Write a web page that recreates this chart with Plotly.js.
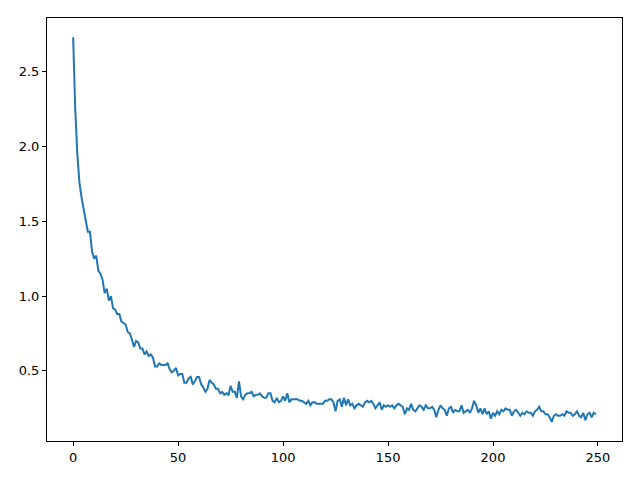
<!DOCTYPE html>
<html>
<head>
<meta charset="utf-8">
<script src="https://cdn.plot.ly/plotly-3.0.1.min.js"></script>
<style>html,body{margin:0;padding:0;background:#fff;}#chart{width:640px;height:480px;}</style>
</head>
<body>
<div id="chart"></div>
<script>
const lossValues = [
  2.73, 2.25, 1.95, 1.76, 1.66, 1.59, 1.52, 1.43, 1.43, 1.30,
  1.25, 1.27, 1.17, 1.15, 1.11, 1.02, 1.05, 0.97, 1.00, 0.92,
  0.91, 0.88, 0.88, 0.83, 0.82, 0.81, 0.76, 0.75, 0.71, 0.66,
  0.70, 0.69, 0.65, 0.65, 0.61, 0.63, 0.60, 0.61, 0.59, 0.53,
  0.53, 0.55, 0.54, 0.54, 0.54, 0.55, 0.51, 0.49, 0.50, 0.52,
  0.47, 0.48, 0.48, 0.42, 0.42, 0.45, 0.46, 0.41, 0.43, 0.46,
  0.46, 0.41, 0.39, 0.36, 0.38, 0.44, 0.42, 0.41, 0.38, 0.38,
  0.35, 0.36, 0.34, 0.35, 0.34, 0.40, 0.36, 0.36, 0.32, 0.43,
  0.33, 0.31, 0.34, 0.35, 0.35, 0.36, 0.33, 0.34, 0.34, 0.35,
  0.33, 0.32, 0.32, 0.35, 0.35, 0.30, 0.29, 0.32, 0.29, 0.30,
  0.33, 0.30, 0.35, 0.29, 0.31, 0.31, 0.31, 0.31, 0.30, 0.30,
  0.29, 0.28, 0.30, 0.27, 0.29, 0.29, 0.28, 0.28, 0.28, 0.28,
  0.30, 0.30, 0.31, 0.31, 0.29, 0.23, 0.30, 0.31, 0.26, 0.32,
  0.27, 0.31, 0.27, 0.28, 0.25, 0.27, 0.28, 0.27, 0.26, 0.29,
  0.30, 0.29, 0.30, 0.28, 0.25, 0.27, 0.29, 0.24, 0.27, 0.26,
  0.27, 0.26, 0.27, 0.25, 0.27, 0.28, 0.27, 0.26, 0.21, 0.25,
  0.24, 0.28, 0.24, 0.23, 0.25, 0.27, 0.26, 0.24, 0.27, 0.25,
  0.25, 0.26, 0.24, 0.19, 0.24, 0.27, 0.25, 0.24, 0.20, 0.25,
  0.26, 0.22, 0.24, 0.23, 0.23, 0.27, 0.22, 0.23, 0.24, 0.22,
  0.25, 0.30, 0.27, 0.22, 0.25, 0.21, 0.25, 0.21, 0.23, 0.18,
  0.22, 0.20, 0.23, 0.21, 0.24, 0.23, 0.25, 0.24, 0.24, 0.20,
  0.23, 0.24, 0.22, 0.20, 0.22, 0.21, 0.23, 0.22, 0.22, 0.20,
  0.23, 0.24, 0.26, 0.23, 0.23, 0.21, 0.21, 0.19, 0.16, 0.20,
  0.21, 0.20, 0.20, 0.21, 0.20, 0.23, 0.22, 0.22, 0.20, 0.21,
  0.23, 0.20, 0.19, 0.22, 0.17, 0.21, 0.22, 0.19, 0.22, 0.21
];
const epochs = lossValues.map((_, i) => i);
const xTickVals = [0, 50, 100, 150, 200, 250];
const yTickVals = [0.5, 1.0, 1.5, 2.0, 2.5];

const xMin = 0, xMax = epochs.length - 1;
const yMin = Math.min(...lossValues), yMax = Math.max(...lossValues);
const xPad = (xMax - xMin) * 0.05, yPad = (yMax - yMin) * 0.05;

const axisCommon = {
  showgrid: false, zeroline: false,
  showline: true, mirror: true, linecolor: '#000', linewidth: 1,
  ticks: 'outside', ticklen: 4, tickwidth: 1, tickcolor: '#000',
  tickfont: {family: 'DejaVu Sans', size: 13, color: '#000'}
};

Plotly.newPlot('chart', [{
  x: epochs, y: lossValues, type: 'scatter', mode: 'lines',
  line: {color: '#1f77b4', width: 2}
}], {
  width: 640, height: 480,
  margin: {l: 47, r: 18, t: 18, b: 39},
  paper_bgcolor: '#fff', plot_bgcolor: '#fff',
  showlegend: false,
  xaxis: Object.assign({}, axisCommon, {range: [xMin - xPad, xMax + xPad], tickvals: xTickVals}),
  yaxis: Object.assign({}, axisCommon, {range: [yMin - yPad, yMax + yPad], tickvals: yTickVals, tickformat: '.1f'})
}, {staticPlot: true});
</script>
</body>
</html>
